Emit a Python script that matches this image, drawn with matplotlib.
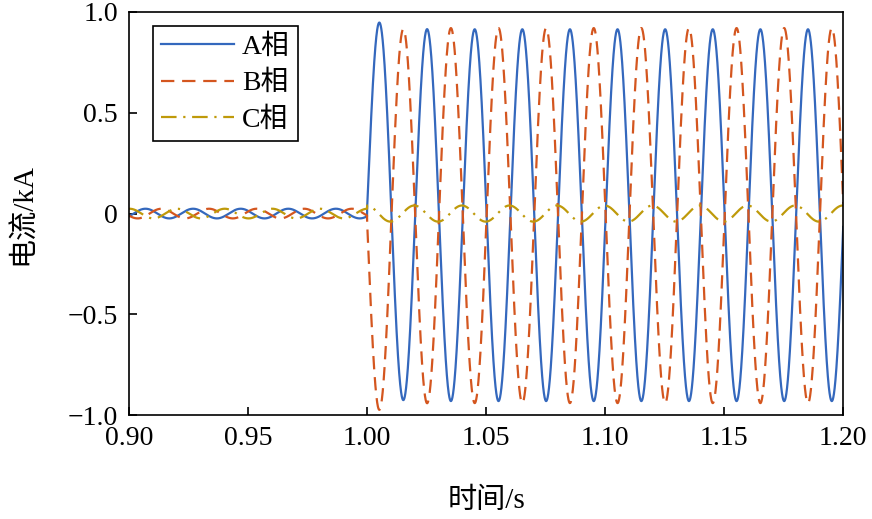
import numpy as np
import matplotlib
matplotlib.use("Agg")
import matplotlib.pyplot as plt

plt.rcParams['font.family'] = ['Liberation Serif', 'Noto Sans CJK SC']

# waveform parameters (50 Hz, fault at t = 1.0 s)
phases = ['A相', 'B相', 'C相']
freq = 50.0
t_fault = 1.0
pre_amp = [0.024, 0.024, 0.024]          # kA, before the fault
pre_peak = [0.9869, 0.9936, 1.0002]      # s, time of one pre-fault peak
post_amp = [0.922, 0.930, 0.040]         # kA, after the fault
post_peak = [1.0052, 1.0152, 1.0198]     # s, time of one post-fault peak
post_offset = [-0.008, -0.010, 0.0]      # kA
dc_kick = [0.09, -0.09, 0.0]             # kA, decaying transient at fault
dc_tau = 0.0052                          # s

colors = ['#3468bd', '#d4561f', '#bf9a0a']

t = np.linspace(0.9, 1.2, 9001)

fig = plt.figure(figsize=(8.72, 5.19), dpi=100)
ax = fig.add_axes([0.148, 0.200, 0.819, 0.777])

for i, name in enumerate(phases):
    pre = pre_amp[i] * np.cos(2 * np.pi * freq * (t - pre_peak[i]))
    post = (post_amp[i] * np.cos(2 * np.pi * freq * (t - post_peak[i]))
            + post_offset[i]
            + dc_kick[i] * np.exp(-(t - t_fault) / dc_tau))
    y = np.where(t < t_fault, pre, post)
    if i == 0:
        ax.plot(t, y, color=colors[i], lw=1.6, label=name)
    elif i == 1:
        ax.plot(t, y, color=colors[i], lw=1.6, dashes=[6, 3.5], label=name)
    else:
        ax.plot(t, y, color=colors[i], lw=1.6, dashes=[7, 3, 1, 3], label=name)

ax.set_xlim(0.9, 1.2)
ax.set_ylim(-1.0, 1.0)
ax.set_xticks([0.90, 0.95, 1.00, 1.05, 1.10, 1.15, 1.20])
ax.set_xticklabels(['0.90', '0.95', '1.00', '1.05', '1.10', '1.15', '1.20'])
ax.set_yticks([-1.0, -0.5, 0, 0.5, 1.0])
ax.set_yticklabels(['\u22121.0', '\u22120.5', '0', '0.5', '1.0'])
ax.tick_params(direction='in', length=6, width=1.2, labelsize=20,
               top=False, right=False, pad=8)
for sp in ax.spines.values():
    sp.set_linewidth(1.2)

ax.set_xlabel('时间/s', fontsize=21, labelpad=26)
ax.set_ylabel('电流/kA', fontsize=21, labelpad=22)

leg = ax.legend(loc='upper left', bbox_to_anchor=(0.022, 0.985), fontsize=20,
                frameon=True, fancybox=False, edgecolor='black',
                framealpha=1, handlelength=2.6, handletextpad=0.3,
                labelspacing=0.38, borderpad=0.3, borderaxespad=0.3)
leg.get_frame().set_linewidth(1.2)

fig.savefig('out.png', dpi=100)
